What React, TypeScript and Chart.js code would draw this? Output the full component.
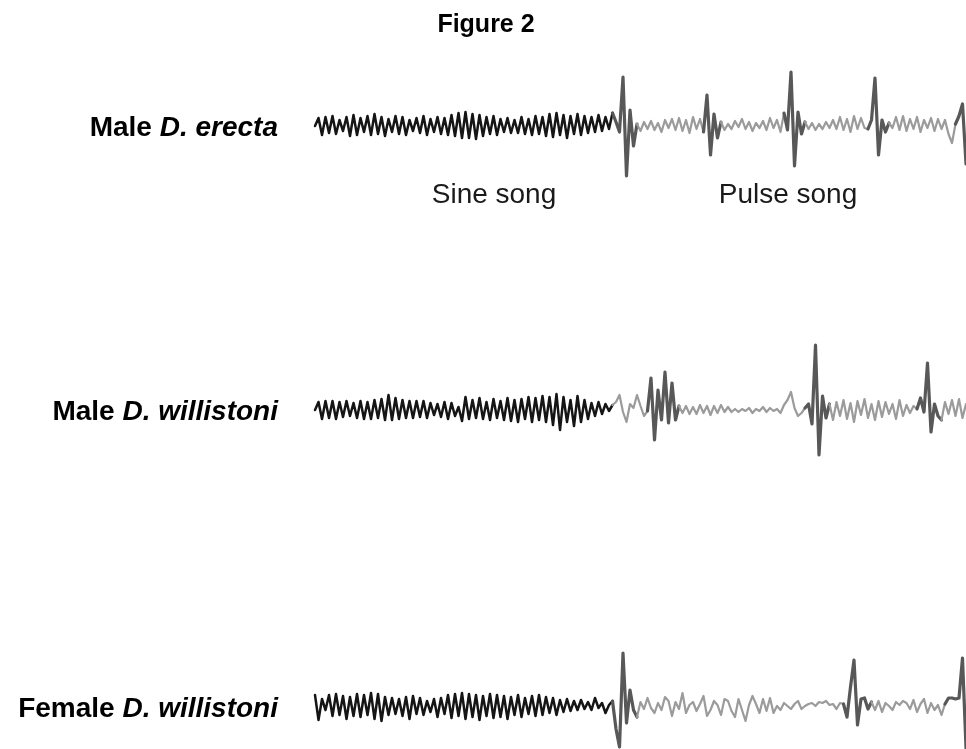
import React, { useEffect, useRef } from "react";
import { Chart, registerables } from "chart.js";

Chart.register(...registerables);

// ---- text ----
const figureTitle = "Figure 2";
const traceLabels: [string, string][] = [
  ["Male ", "D. erecta"],
  ["Male ", "D. willistoni"],
  ["Female ", "D. willistoni"],
];
const songLabels = ["Sine song", "Pulse song"];

// ---- waveform samples (amplitude, up = positive), one sample per index ----
const erectaWave: number[] = [
  0, 8, -9, 9, -7, 10, -8, 6, -5, 9,
  -10, 11, -9, 8, -6, 10, -9, 12, -8, 9,
  -10, 7, -6, 10, -8, 9, -9, 6, -5, 8,
  -7, 10, -9, 7, -6, 9, -8, 8, -9, 11,
  -10, 13, -12, 14, -12, 12, -13, 11, -10, 9,
  -8, 10, -9, 7, -6, 8, -7, 6, -7, 9,
  -8, 7, -9, 10, -8, 9, -10, 12, -11, 13,
  -9, 11, -12, 10, -8, 12, -9, 10, -7, 9,
  -6, 11, -5, 9, -3, 13, 4, -6, 49, -50,
  16, -20, 2, -5, 4, -3, 5, -4, 3, -6,
  6, -2, 7, -4, 8, -5, 6, -7, 9, -3,
  7, -6, 31, -29, 12, -12, 4, -4, 2, -3,
  5, -1, 7, -3, 4, -5, 3, -2, 5, -4,
  8, -2, 6, -6, 13, -4, 54, -40, 14, -8,
  4, -3, 3, -4, 2, -3, 4, -2, 6, -3,
  9, -4, 7, -6, 10, -3, 8, -2, -3, 6,
  48, -29, 6, -6, 3, -2, 9, -4, 10, -5,
  7, -3, 9, -6, 6, -2, 8, -5, 7, -3,
  6, -8, -17, 2, 10, 22, -38,
];

const willistoniMaleWave: number[] = [
  0, 8, -9, 9, -8, 9, -9, 8, -7, 9,
  -6, 7, -8, 9, -9, 8, -9, 10, -8, 11,
  -10, 15, -10, 12, -9, 10, -8, 9, -8, 9,
  -7, 9, -8, 7, -5, 6, -7, 8, -9, 7,
  -6, 3, -11, 13, -9, 10, -8, 12, -9, 8,
  -10, 11, -8, 9, -10, 12, -11, 10, -12, 11,
  -9, 13, -12, 12, -10, 14, -12, 13, -15, 16,
  -20, 13, -12, 10, -16, 14, -12, 10, -9, 7,
  -6, 8, -4, 6, -1, 5, 8, 15, -2, -12,
  6, 2, 15, 4, -6, -1, 32, -30, 20, -10,
  38, -13, 27, -10, 4, -3, 4, -4, 3, -4,
  5, -3, 4, -5, 4, -3, 5, -2, 3, -2,
  1, -2, 1, -1, 2, -3, 1, -1, 3, -2,
  2, -1, 1, -3, 5, 10, 18, 2, -6, -3,
  2, 6, -14, 65, -45, 14, -8, 6, -10, 8,
  -6, 10, -9, 7, -12, 9, -5, 11, -8, 6,
  -10, 9, -7, 8, -4, 6, -9, 10, -6, 5,
  -3, 4, 1, 12, -2, 47, -22, 6, -6, -10,
  8, -4, 10, -6, 11, -8, 6,
];

const willistoniFemaleWave: number[] = [
  12, -13, 8, -3, 12, -9, 13, -8, 11, -12,
  10, -9, 13, -10, 12, -8, 14, -12, 13, -14,
  10, -8, 9, -7, 8, -9, 10, -12, 11, -7,
  9, -8, 6, -5, 8, -10, 9, -7, 12, -11,
  13, -9, 14, -12, 13, -10, 12, -13, 11, -9,
  13, -11, 12, -10, 11, -12, 10, -8, 12, -10,
  9, -7, 11, -9, 12, -8, 10, -6, 9, -8,
  7, -5, 8, -4, 6, -3, 7, -2, 5, -3,
  9, -1, 4, -6, 2, 6, -22, -40, 54, -16,
  17, -3, -10, 5, -2, 9, -1, -6, 4, -3,
  10, 6, -9, 5, -2, 14, -6, 2, 5, -4,
  3, 11, -9, -3, 6, 2, -8, 8, 6, -4,
  -10, 8, -3, -14, 2, 11, 3, -6, 8, -4,
  9, -6, 1, -3, 4, 1, -2, 3, 6, -2,
  1, 3, 4, 1, 5, 4, 6, 2, 3, -2,
  4, 3, -10, 20, 47, -18, 8, 9, -2, 5,
  -3, 6, -5, 4, 1, -3, 5, 2, 6, 4,
  -2, 7, -5, 3, 8, -6, 4, -3, 2, -8,
  3, 9, 9, 8, 9, 49, -41,
];

// last sample index of the sine song part
const sineEnds = [85, 85, 85];
// sample ranges drawn as pulses
const erectaPulses: [number, number][] = [[85, 92], [111, 116], [134, 140], [158, 164], [183, 186]];
const willistoniMalePulses: [number, number][] = [[95, 104], [140, 147], [172, 179]];
const willistoniFemalePulses: [number, number][] = [[85, 92], [151, 159], [180, 186]];

const waves = [erectaWave, willistoniMaleWave, willistoniFemaleWave];
const pulses = [erectaPulses, willistoniMalePulses, willistoniFemalePulses];

// layout
const traceBaselines = [126, 410, 707];
const SINE_COLOR = "#151515";
const NOISE_COLOR = "#9b9b9b";
const PULSE_COLOR = "#585858";
const FONT = '"Liberation Sans", Arial, Helvetica, sans-serif';

function segKind(trace: number, i0: number, i1: number): "sine" | "pulse" | "noise" {
  if (i1 <= sineEnds[trace]) return "sine";
  for (const [a, b] of pulses[trace]) {
    if (i0 >= a && i1 <= b) return "pulse";
  }
  return "noise";
}

const textPlugin = {
  id: "figureText",
  afterDraw(chart: any) {
    const ctx: CanvasRenderingContext2D = chart.ctx;
    const ys = chart.scales.y;
    ctx.save();
    ctx.fillStyle = "#000";
    ctx.textBaseline = "alphabetic";

    ctx.font = `bold 25px ${FONT}`;
    ctx.textAlign = "center";
    ctx.fillText(figureTitle, 486, 32);

    ctx.textAlign = "left";
    traceLabels.forEach(([plain, ital], k) => {
      const base = ys.getPixelForValue(traceBaselines[k]) + 10;
      ctx.font = `bold 28px ${FONT}`;
      const w1 = ctx.measureText(plain).width;
      ctx.font = `italic bold 28px ${FONT}`;
      const w2 = ctx.measureText(ital).width;
      const x0 = 278 - w1 - w2;
      ctx.font = `bold 28px ${FONT}`;
      ctx.fillText(plain, x0, base);
      ctx.font = `italic bold 28px ${FONT}`;
      ctx.fillText(ital, x0 + w1, base);
    });

    ctx.fillStyle = "#1a1a1a";
    ctx.font = `28px ${FONT}`;
    ctx.textAlign = "center";
    ctx.fillText(songLabels[0], 494, 203);
    ctx.fillText(songLabels[1], 788, 203);
    ctx.restore();
  },
};

export default function App() {
  const ref = useRef<HTMLCanvasElement | null>(null);

  useEffect(() => {
    if (!ref.current) return;
    const datasets = waves.map((wave, k) => ({
      label: traceLabels[k].join(""),
      data: wave.map((v, i) => ({ x: i, y: traceBaselines[k] - v })),
      borderColor: SINE_COLOR,
      borderWidth: 2.5,
      pointRadius: 0,
      tension: 0,
      fill: false,
      borderJoinStyle: "round" as const,
      borderCapStyle: "round" as const,
      segment: {
        borderColor: (c: any) => {
          const kind = segKind(k, c.p0DataIndex, c.p1DataIndex);
          return kind === "sine" ? SINE_COLOR : kind === "pulse" ? PULSE_COLOR : NOISE_COLOR;
        },
        borderWidth: (c: any) => {
          const kind = segKind(k, c.p0DataIndex, c.p1DataIndex);
          return kind === "sine" ? 2.5 : kind === "pulse" ? 3.2 : 2.2;
        },
      },
    }));

    const chart = new Chart(ref.current, {
      type: "line",
      data: { datasets },
      options: {
        animation: false,
        responsive: false,
        devicePixelRatio: 1,
        layout: { padding: 0 },
        plugins: { legend: { display: false }, tooltip: { enabled: false }, title: { display: false } },
        scales: {
          x: { type: "linear", min: -90, max: 186, display: false },
          y: { type: "linear", min: 0, max: 749, reverse: true, display: false },
        },
      },
      plugins: [textPlugin],
    });
    return () => chart.destroy();
  }, []);

  return (
    <div style={{ position: "absolute", left: 0, top: 0, width: 966, height: 749, background: "#fff" }}>
      <canvas ref={ref} width={966} height={749} />
    </div>
  );
}
